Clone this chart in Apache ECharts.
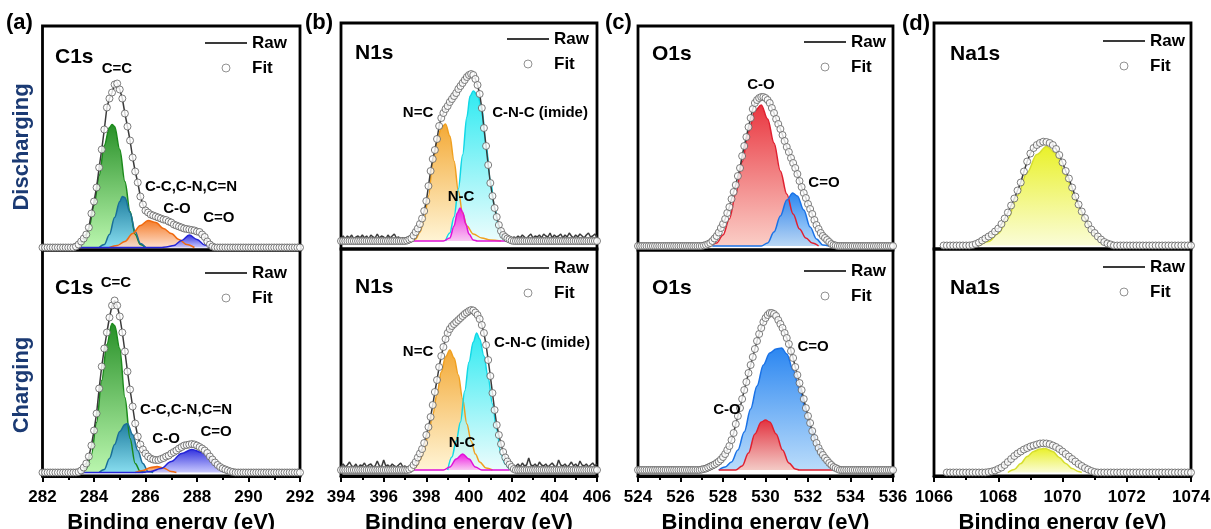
<!DOCTYPE html>
<html>
<head>
<meta charset="utf-8">
<title>XPS C1s / N1s / O1s / Na1s</title>
<script src="https://cdn.jsdelivr.net/npm/echarts@6.0.0/dist/echarts.min.js"></script>
<style>
  html, body { margin: 0; padding: 0; background: #fff; }
  #chart { width: 1211px; height: 529px; }
</style>
</head>
<body>
<div id="chart"></div>
<script>
// ---------- data (intensities in arbitrary units) ----------
const xTicksC1s = [282, 292];
const xTicksN1s = [394, 406];
const xTicksO1s = [524, 536];
const xTicksNa1s = [1066, 1074];

// fit envelopes, sampled every 0.1 eV from the given start
const c1sDisFit = [0,0,0,0,0,0,0,0,0,0,0,0,0,
  1,3,6,9,13,20,34,46,60,80,98,118,140,149,155,163,164,158,149,134,121,107,90,76,65,51,43,37,35,33,32,31,30,29,28,27.5,26,25,23,22,21,20,19,18.5,18,17.5,17,16,15.5,13,10.5,6,3,1,
  0,0,0,0,0,0,0,0,0,0,0,0,0,0,0,0,0,0,0,0,0,0,0,0,0,0,0,0,0,0,0,0,0,0];
const c1sChaFit = [0,0,0,0,0,0,0,0,0,0,0,0,0,0,
  0.5,2,5,9,16,27,42,59,84,106,124,140,155,167,172,167,156,140,121,101,83,66,49,36,28,23,19,16,14,13,12.5,12.5,13.5,14.5,16,17,19,20.5,22,24,25.5,27,27.5,28,28.5,28,27,25.5,24,22,19.5,16,13,10,7.5,5.5,4,3,2,1,0.5,
  0,0,0,0,0,0,0,0,0,0,0,0,0,0,0,0,0,0,0,0,0,0,0,0,0,0];
const n1sDisFit = [0,0,0,0,0,0,0,0,0,0,0,0,0,0,0,0,0,0,0,0,0,0,0,0,0,0,0,0,0,0,0,
  0.5,1.5,2.5,5.5,9,12.5,17,22.5,30,40,55,70,82,91,102,115,123,128,132,135,139,142,145,148,152,155,158,161,164,166,167,166,162,156,147,133,113,95,76,58,45,33,24,16,10,6,4,2.5,1.5,0.5,
  0,0,0,0,0,0,0,0,0,0,0,0,0,0,0,0,0,0,0,0,0,0,0,0,0,0,0,0,0,0,0,0,0,0,0,0,0,0,0,0];
const n1sChaFit = [0,0,0,0,0,0,0,0,0,0,0,0,0,0,0,0,0,0,0,0,0,0,0,0,0,0,0,0,0,0,0,0,
  0.5,2,5,8,12.5,16.5,21,27,35,43,53,65,78,90,103,114,123,131,137,141,144,146,148,150,152,154,156,157.5,159,160,159.5,157.5,155,151,145,137,125,110,94,77,60,45,35,26,18,12.5,8.5,5.5,3,1,
  0,0,0,0,0,0,0,0,0,0,0,0,0,0,0,0,0,0,0,0,0,0,0,0,0,0,0,0,0,0,0,0,0,0,0,0,0,0,0];
const o1sDisFit = [0,0,0,0,0,0,0,0,0,0,0,0,0,0,0,0,0,0,0,0,0,0,0,0,0,0,0,0,0,0,0,
  0.5,1,2,3,5,7.5,10,13.5,18,22,27,33,39,47,54,61,70,78,90,100,109,119,128,137,143,146,148,149,149,148,146,143,138,133,127,122,117,111,105,99,94,88,83,78,72,65,59,53,48,42,37,32,26,21,17,13,10,8,6,4,2,1,0.5,
  0,0,0,0,0,0,0,0,0,0,0,0,0,0,0,0,0,0,0,0,0,0,0,0,0,0,0];
const o1sChaFit = [0,0,0,0,0,0,0,0,0,0,0,0,0,0,0,0,0,0,0,0,0,0,0,0,0,0,0,0,0,0,
  0.5,1,1.5,2.5,3.5,4.5,5.5,7,8.5,10.5,13,16,20,24,30,37,46,54,62,71,80,88,97,105,113,121,129,136,142,148,152,155,157,157,156,154,150,146,142,137,132,126,119,112,103,95,87,80,71,62,54,47,39,32,27,22,18,15,12,9.5,7,5,3,2,1,
  0,0,0,0,0,0,0,0,0,0,0,0,0,0,0,0,0,0,0,0,0,0,0,0,0,0];
const na1sDisFit = [0,0,0,0,0,0,0,0,0,
  0.5,1.5,3,5,7,9,11,14,17,21.5,27,33,40,47,55,63,74,84,92,97.5,100.5,102.5,103.8,103.5,102.5,100.5,96.5,90.5,83,74.5,67,58,49,41,34,27.5,21,16,12.5,9,6,3.5,2,1,
  0,0,0,0,0,0,0,0,0,0,0,0,0,0,0,0,0,0,0,0,0,0,0,0,0];
const na1sChaFit = [0,0,0,0,0,0,0,0,0,0,0,0,0,
  0.5,1,2,3.5,5,7.5,10.5,13.5,16.5,19,21,23,24.5,26,27,28,29,29.2,29,28.3,27,25.5,23.5,21,18.5,16,13.5,11,8.5,6.5,4.5,3,1.5,0.5,
  0,0,0,0,0,0,0,0,0,0,0,0,0,0,0,0,0,0,0,0,0,0,0,0,0,0,0,0,0,0];

// raw N1s background noise (left / right of the peak)
const n1sDisNoiseL = [3,5,2,5,3,6,2,4,5,3,6,3,5,2,6,4,3,7,3,5,4,2,6,3,5,7,3,4,2,3,1];
const n1sDisNoiseR = [2,4,3,5,3,6,4,2,5,7,3,5,4,6,3,7,5,4,8,3,6,4,5,7,3,6,4,8,5,3,6,4,7,5,3,6,8,4,5,7,4];
const n1sChaNoiseL = [4,6,3,5,8,4,3,6,2,5,4,7,3,5,6,3,4,9,4,3,10,4,5,3,6,4,3,5,7,3,4,2];
const n1sChaNoiseR = [4,6,3,7,4,5,12,5,4,6,3,8,5,4,6,3,5,7,4,3,10,5,4,6,3,5,8,4,6,3,9,5,4,6,3,5,7,4,6];

// fitted components [binding energy, intensity]
const c1sDisCC  = [[283.4,0],[283.6,6],[283.8,19],[284.0,42],[284.2,72],[284.4,102],[284.6,120],[284.7,123],[284.8,121],[285.0,98],[285.2,66],[285.4,36],[285.6,13],[285.8,3],[286.0,0]];
const c1sDisCN  = [[284.2,0],[284.4,3],[284.6,13],[284.8,30],[285.0,46],[285.1,51],[285.2,50],[285.4,35],[285.6,16],[285.8,4],[286.0,0]];
const c1sDisCO  = [[284.6,0],[284.9,2],[285.2,6],[285.5,14],[285.8,22],[286.1,27],[286.4,25],[286.7,19],[287.0,14],[287.3,8],[287.6,3],[287.9,0]];
const c1sDisCdO = [[283.4,0],[286.6,0],[286.8,0.5],[287.1,2],[287.4,7],[287.7,12.5],[288.0,8],[288.3,2.5],[288.6,0]];

const c1sChaCC  = [[283.5,0],[283.7,4],[283.9,18],[284.1,50],[284.3,92],[284.5,128],[284.7,149],[284.8,147],[285.0,124],[285.2,75],[285.4,34],[285.6,9],[285.8,1],[286.0,0]];
const c1sChaCN  = [[284.2,0],[284.4,3],[284.6,14],[284.8,28],[285.0,41],[285.2,48],[285.3,49],[285.5,38],[285.7,22],[285.9,9],[286.1,1],[286.3,0]];
const c1sChaCO  = [[285.6,0],[285.9,2],[286.2,5],[286.45,6],[286.7,4.5],[287.0,1],[287.2,0]];
const c1sChaCdO = [[283.5,0],[285.8,0],[286.2,1],[286.6,4],[287.0,11],[287.4,19],[287.8,23],[288.2,20],[288.6,13],[289.0,5],[289.4,1],[289.6,0]];

const n1sDisNdC   = [[397.2,0],[397.5,2],[397.7,9],[397.9,22],[398.1,45],[398.3,78],[398.5,100],[398.7,113],[398.9,117],[399.1,105],[399.3,80],[399.5,50],[399.7,28],[399.9,15],[400.2,7],[400.6,3],[401.0,1],[401.5,0]];
const n1sDisImide = [[398.9,0],[399.1,8],[399.3,24],[399.5,52],[399.7,86],[399.9,124],[400.05,145],[400.2,150],[400.4,146],[400.6,133],[400.8,96],[401.0,62],[401.2,34],[401.4,13],[401.6,3],[401.8,0]];
const n1sDisNC    = [[397.4,0],[398.8,0],[399.1,3],[399.3,15],[399.45,28],[399.58,33],[399.7,29],[399.85,17],[400.0,7],[400.2,1],[400.4,0],[401.8,0]];

const n1sChaNdC   = [[397.3,0],[397.5,3],[397.7,10],[397.9,21],[398.1,37],[398.3,55],[398.5,76],[398.7,98],[398.9,113],[399.1,120],[399.3,112],[399.5,95],[399.7,71],[399.9,46],[400.1,29],[400.3,16],[400.5,8],[400.8,2],[401.1,0]];
const n1sChaImide = [[399.0,0],[399.2,13],[399.4,29],[399.6,48],[399.8,79],[400.0,108],[400.2,128],[400.36,137],[400.5,131],[400.7,114],[400.9,92],[401.1,66],[401.3,40],[401.5,16],[401.7,6],[401.9,0]];
const n1sChaNC    = [[397.4,0],[398.8,0],[399.1,3],[399.4,11],[399.7,16],[400.0,11],[400.3,3],[400.6,0],[401.9,0]];

const o1sDisCO  = [[527.4,0],[527.7,3],[528.0,11],[528.3,27],[528.6,52],[528.9,84],[529.2,114],[529.5,135],[529.8,141],[530.1,127],[530.4,103],[530.7,75],[531.0,52],[531.3,32],[531.6,17],[531.9,8],[532.2,3],[532.5,0]];
const o1sDisCdO = [[527.5,0],[529.8,0],[530.1,3],[530.4,14],[530.7,30],[531.0,46],[531.28,53],[531.5,50],[531.8,36],[532.1,19],[532.4,7],[532.7,1],[533.0,0]];

const o1sChaCdO = [[527.8,0],[528.1,3],[528.4,8],[528.7,20],[529.0,38],[529.3,61],[529.6,84],[529.9,105],[530.2,117],[530.5,121],[530.76,122],[531.0,116],[531.3,100],[531.6,81],[531.9,60],[532.2,40],[532.5,24],[532.8,12],[533.1,4],[533.4,1],[533.6,0]];
const o1sChaCO  = [[527.8,0],[528.6,0],[528.9,4],[529.2,17],[529.5,36],[529.8,48],[530.0,50],[530.2,48],[530.5,36],[530.8,20],[531.1,7],[531.4,1],[531.6,0],[533.6,0]];

const na1sDisPeak = [[1067.4,0],[1067.7,4],[1068.0,12],[1068.3,27],[1068.6,50],[1068.9,73],[1069.2,91],[1069.5,99],[1069.8,92],[1070.1,70],[1070.4,46],[1070.7,27],[1071.0,12],[1071.3,4],[1071.6,0]];
const na1sChaPeak = [[1068.3,0],[1068.5,3],[1068.7,9],[1068.9,16],[1069.1,21],[1069.3,23.5],[1069.46,24],[1069.7,21],[1069.9,15],[1070.1,9],[1070.3,4],[1070.5,1],[1070.6,0]];

// peak annotations [text, energy, intensity]
const c1sDisLabels = [['C=C',284.89,178.5],['C-C,C-N,C=N',287.77,60.5],['C-O',287.22,38.5],['C=O',288.85,29.5]];
const c1sChaLabels = [['C=C',284.85,189.5],['C-C,C-N,C=N',287.57,62.5],['C-O',286.8,33.5],['C=O',288.74,40.5]];
const n1sDisLabels = [['N=C',397.61,128],['C-N-C (imide)',403.33,128],['N-C',399.63,44]];
const n1sChaLabels = [['N=C',397.61,118],['C-N-C (imide)',403.42,127],['N-C',399.67,27]];
const o1sDisLabels = [['C-O',529.79,161],['C=O',532.75,63]];
const o1sChaLabels = [['C=O',532.24,123],['C-O',528.19,60]];

// ---------- styling ----------
const FONT = '"Liberation Sans", Arial, sans-serif';
const NAVY = '#1b3a73';

const peakStyle = {
  green:   { line: '#1c8a1c', top: 'rgba(28,138,28,0.95)',  bottom: 'rgba(178,245,165,0.9)' },
  teal:    { line: '#1a6f98', top: 'rgba(26,122,162,0.95)', bottom: 'rgba(130,218,246,0.9)' },
  orange:  { line: '#f06a10', top: 'rgba(244,116,28,0.95)', bottom: 'rgba(253,220,200,0.9)' },
  violet:  { line: '#2424d8', top: 'rgba(40,40,220,0.95)',  bottom: 'rgba(195,195,255,0.9)' },
  amber:   { line: '#f0a020', top: 'rgba(242,160,32,0.9)',  bottom: 'rgba(255,242,205,0.85)' },
  cyan:    { line: '#12d8e6', top: 'rgba(24,232,240,0.9)',  bottom: 'rgba(232,252,252,0.85)' },
  magenta: { line: '#e010d8', top: 'rgba(240,16,224,0.95)', bottom: 'rgba(250,195,242,0.9)' },
  red:     { line: '#e02030', top: 'rgba(232,44,54,0.95)',  bottom: 'rgba(250,200,192,0.9)' },
  blue:    { line: '#1a72e6', top: 'rgba(32,128,240,0.95)', bottom: 'rgba(178,216,250,0.9)' },
  yellow:  { line: '#d6de30', top: 'rgba(232,240,30,0.95)', bottom: 'rgba(250,252,210,0.9)' }
};

// grid boxes [left, top, right, bottom] in px
const panels = [
  { box: [42.5, 26, 300, 250], x: xTicksC1s, y: [-2.5, 221.5], axis: false, start: 282, fit: c1sDisFit, raw: c1sDisFit,
    comps: [[c1sDisCC,'green'],[c1sDisCN,'teal'],[c1sDisCO,'orange'],[c1sDisCdO,'violet']], labels: c1sDisLabels, legend: [204, 34] },
  { box: [42.5, 250, 300, 476], x: xTicksC1s, y: [-3.5, 222.5], axis: true, start: 282, fit: c1sChaFit, raw: c1sChaFit,
    comps: [[c1sChaCC,'green'],[c1sChaCN,'teal'],[c1sChaCO,'orange'],[c1sChaCdO,'violet']], labels: c1sChaLabels, legend: [204, 264] },
  { box: [341, 23, 597, 249], x: xTicksN1s, y: [-8, 218], axis: false, start: 394, fit: n1sDisFit,
    raw: [...n1sDisNoiseL, ...n1sDisFit.slice(31, 80), ...n1sDisNoiseR],
    comps: [[n1sDisNdC,'amber'],[n1sDisImide,'cyan'],[n1sDisNC,'magenta']], labels: n1sDisLabels, legend: [506, 30] },
  { box: [341, 249, 597, 476], x: xTicksN1s, y: [-6, 221], axis: true, start: 394, fit: n1sChaFit,
    raw: [...n1sChaNoiseL, ...n1sChaFit.slice(32, 82), ...n1sChaNoiseR],
    comps: [[n1sChaNdC,'amber'],[n1sChaImide,'cyan'],[n1sChaNC,'magenta']], labels: n1sChaLabels, legend: [506, 259] },
  { box: [638, 26, 893, 250], x: xTicksO1s, y: [-4, 220], axis: false, start: 524, fit: o1sDisFit, raw: o1sDisFit,
    comps: [[o1sDisCO,'red'],[o1sDisCdO,'blue']], labels: o1sDisLabels, legend: [803, 33] },
  { box: [638, 250, 893, 476], x: xTicksO1s, y: [-6, 220], axis: true, start: 524, fit: o1sChaFit, raw: o1sChaFit,
    comps: [[o1sChaCdO,'blue'],[o1sChaCO,'red']], labels: o1sChaLabels, legend: [803, 262] },
  { box: [934, 23, 1191, 249], x: xTicksNa1s, y: [-3.5, 222.5], axis: false, start: 1066.3, fit: na1sDisFit, raw: na1sDisFit,
    comps: [[na1sDisPeak,'yellow']], labels: [], legend: [1102, 32] },
  { box: [934, 249, 1191, 476], x: xTicksNa1s, y: [-3.5, 223.5], axis: true, start: 1066.4, fit: na1sChaFit, raw: na1sChaFit,
    comps: [[na1sChaPeak,'yellow']], labels: [], legend: [1102, 258] }
];

const grad = (top, bottom) => new echarts.graphic.LinearGradient(0, 0, 0, 1, [
  { offset: 0, color: top }, { offset: 1, color: bottom }
]);
const toPairs = (vals, start) => vals.map((v, i) => [+(start + i * 0.1).toFixed(2), v]);

const grid = [], xAxis = [], yAxis = [], series = [], legend = [];

panels.forEach((p, i) => {
  const [l, t, r, b] = p.box;
  grid.push({ left: l, top: t, width: r - l, height: b - t, show: true, outerBoundsMode: 'none',
    containLabel: false, borderColor: '#000', borderWidth: 2.8, backgroundColor: 'transparent' });

  xAxis.push({
    type: 'value', gridIndex: i, min: p.x[0], max: p.x[1], interval: 2,
    name: p.axis ? 'Binding energy (eV)' : '', nameLocation: 'middle', nameGap: 36,
    nameTextStyle: { fontSize: 22, fontWeight: 'bold', color: '#000', fontFamily: FONT },
    axisLine: { show: p.axis, onZero: false, lineStyle: { color: '#000', width: 2.8 } },
    axisTick: { show: p.axis, length: 6, lineStyle: { color: '#000', width: 2 } },
    minorTick: { show: p.axis, splitNumber: 2, length: 4, lineStyle: { color: '#000', width: 2 } },
    axisLabel: { show: p.axis, fontSize: 17, fontWeight: 'bold', color: '#000', fontFamily: FONT,
      margin: 13, showMinLabel: true, showMaxLabel: true, hideOverlap: false,
      formatter: (v) => String(v) },
    splitLine: { show: false }, minorSplitLine: { show: false }
  });
  yAxis.push({ type: 'value', gridIndex: i, min: p.y[0], max: p.y[1], show: false });

  p.comps.forEach(([data, key]) => {
    const s = peakStyle[key];
    series.push({
      type: 'line', xAxisIndex: i, yAxisIndex: i, data, smooth: 0.35, smoothMonotone: 'x',
      symbol: 'none', silent: true, z: 2,
      lineStyle: { color: s.line, width: 1.5 },
      areaStyle: { color: grad(s.top, s.bottom), opacity: 1 }
    });
  });

  series.push({
    name: 'Raw', type: 'line', xAxisIndex: i, yAxisIndex: i, data: toPairs(p.raw, p.start),
    symbol: 'none', color: '#3a3a3a', lineStyle: { color: '#3a3a3a', width: 1.5 }, z: 3, silent: true
  });
  series.push({
    name: 'Fit', type: 'scatter', xAxisIndex: i, yAxisIndex: i, data: toPairs(p.fit, p.start),
    symbol: 'circle', symbolSize: 7, z: 4, silent: true,
    itemStyle: { color: '#fff', borderColor: '#5c5c5c', borderWidth: 1 }
  });

  legend.push({
    left: p.legend[0], top: p.legend[1], orient: 'vertical', padding: 0,
    itemWidth: 42, itemHeight: 8, itemGap: 7, selectedMode: false,
    data: [
      { name: 'Raw', itemStyle: { color: 'rgba(0,0,0,0)', borderWidth: 0, opacity: 0 } },
      { name: 'Fit', itemStyle: { color: '#fff', borderColor: '#777', borderWidth: 1 } }
    ],
    textStyle: { fontSize: 17, fontWeight: 'bold', color: '#000', fontFamily: FONT, lineHeight: 18 }
  });
});

const txt = (text, x, y, size, extra) => Object.assign({
  type: 'text', x, y, silent: true, z: 10,
  style: { text, font: `bold ${size}px ${FONT}`, fill: '#000', textAlign: 'left', textVerticalAlign: 'middle' }
}, extra || {});

const graphic = [
  txt('(a)', 6, 23, 22), txt('(b)', 305, 23, 22), txt('(c)', 605, 23, 22), txt('(d)', 902, 24, 22),
  txt('C1s', 55, 57, 21), txt('N1s', 355, 53, 21), txt('O1s', 652, 54, 21), txt('Na1s', 950, 54, 21),
  txt('C1s', 55, 288, 21), txt('N1s', 355, 287, 21), txt('O1s', 652, 288, 21), txt('Na1s', 950, 288, 21),
  { type: 'text', x: 22, y: 147, rotation: Math.PI / 2, silent: true,
    style: { text: 'Discharging', font: `bold 22px ${FONT}`, fill: NAVY, textAlign: 'center', textVerticalAlign: 'middle' } },
  { type: 'text', x: 22, y: 385, rotation: Math.PI / 2, silent: true,
    style: { text: 'Charging', font: `bold 22px ${FONT}`, fill: NAVY, textAlign: 'center', textVerticalAlign: 'middle' } }
];

const chart = echarts.init(document.getElementById('chart'), null, { renderer: 'canvas' });
chart.setOption({
  animation: false,
  backgroundColor: '#fff',
  grid, xAxis, yAxis, series, legend, graphic
});

// peak annotations, placed through each panel's own axes
const peakTexts = [];
panels.forEach((p, i) => {
  p.labels.forEach(([text, ev, v]) => {
    const [px, py] = chart.convertToPixel({ gridIndex: i }, [ev, v]);
    peakTexts.push({
      type: 'text', x: px, y: py, silent: true, z: 10,
      style: { text, font: `bold 15px ${FONT}`, fill: '#000', textAlign: 'center', textVerticalAlign: 'middle' }
    });
  });
});
chart.setOption({ graphic: graphic.concat(peakTexts) });
</script>
</body>
</html>
